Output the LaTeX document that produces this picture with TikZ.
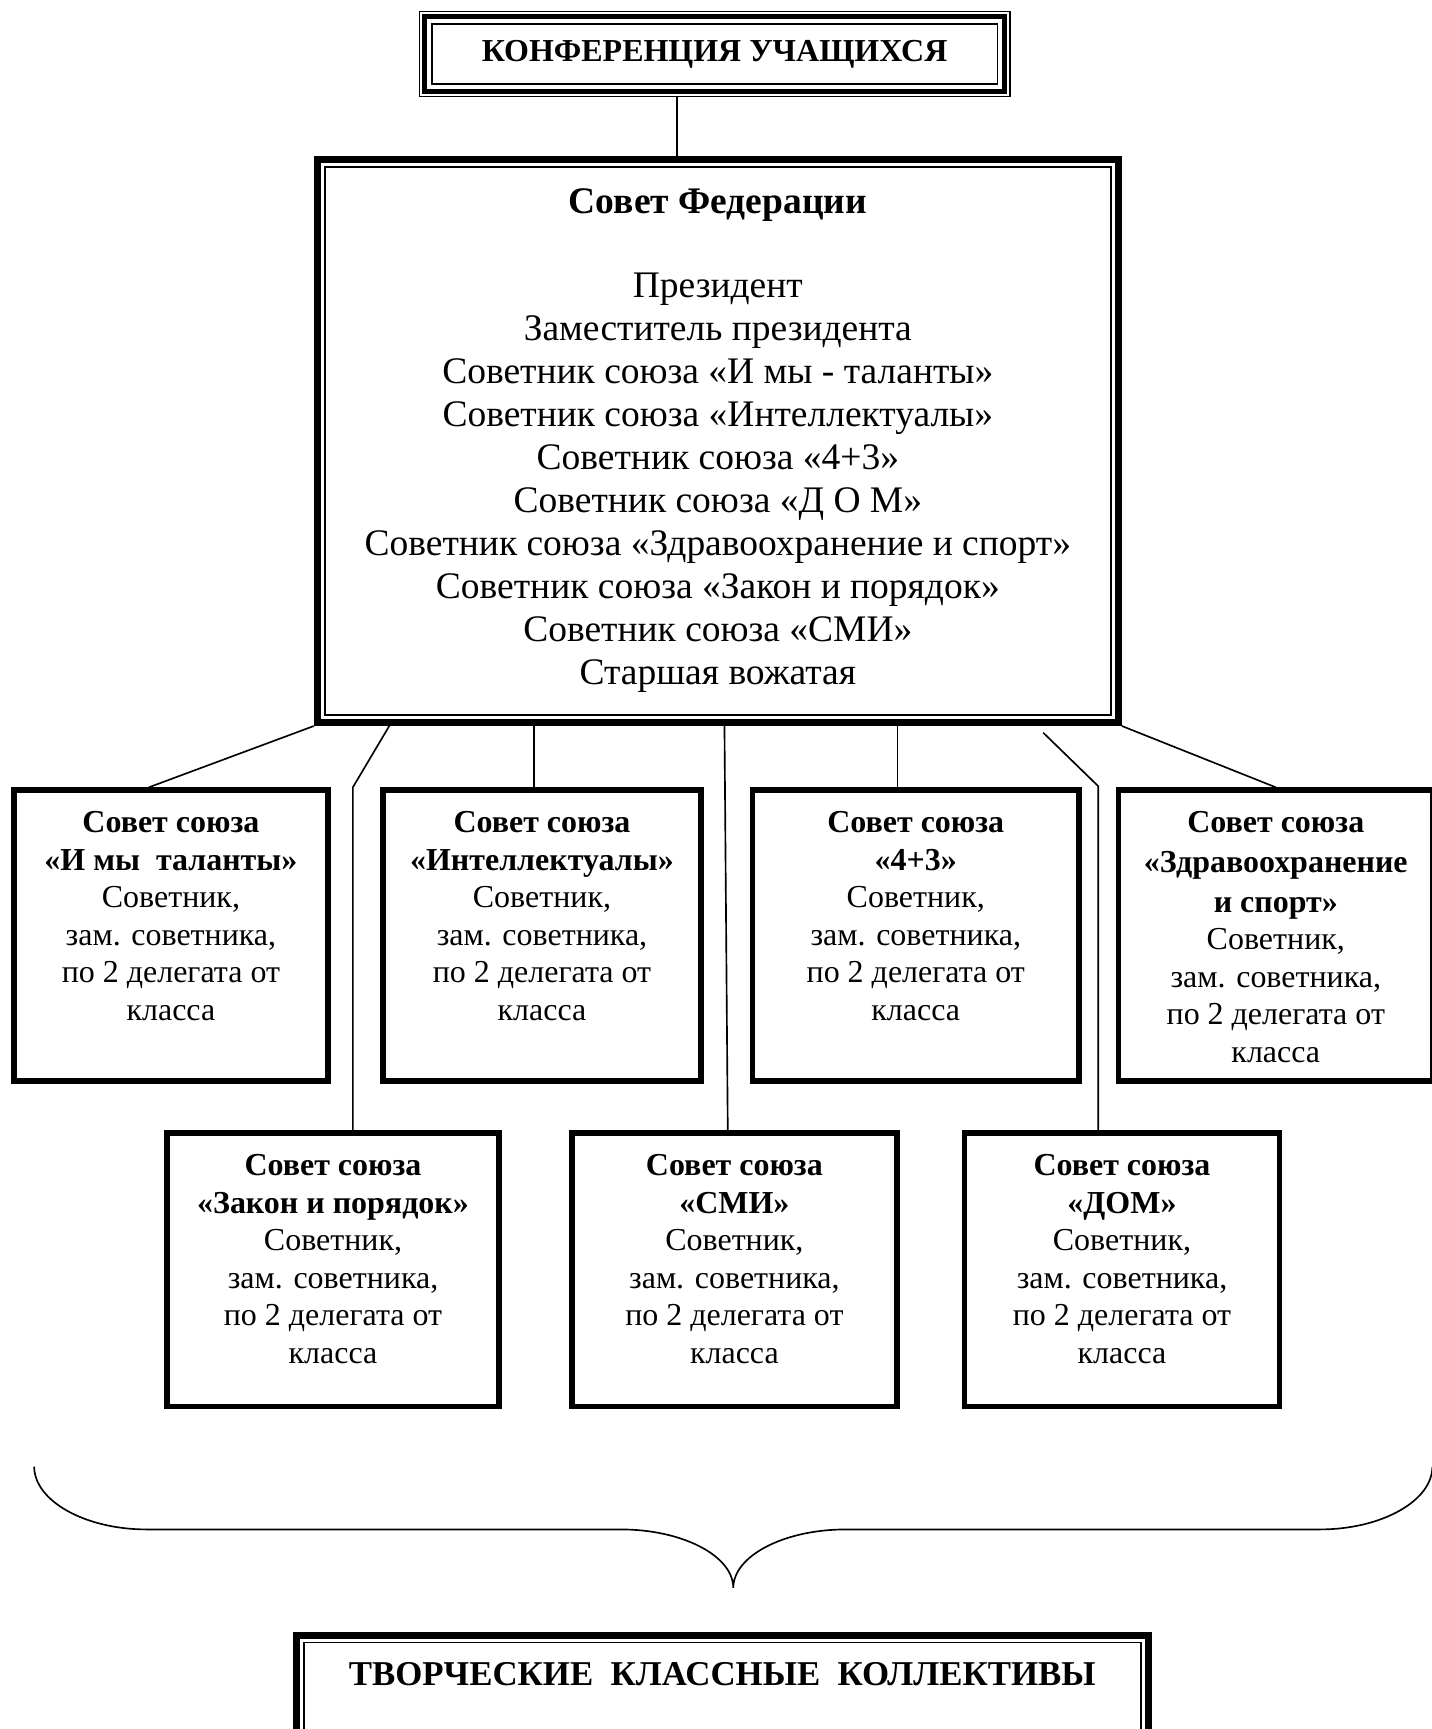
\documentclass[tikz,border=0pt]{standalone}
\usepackage{fontspec}
\setmainfont{Liberation Serif}
\usetikzlibrary{calc}
\begin{document}
\begin{tikzpicture}[x=0.5pt,y=-0.5pt]
\tikzset{
  ubox/.style={draw, line width=2.5pt, inner sep=0pt},
  utext/.style={align=center, inner sep=0pt, anchor=north, font=\fontsize{14.5pt}{17pt}\selectfont},
  conn/.style={line width=0.75pt},
  frame/.style={draw=none, inner sep=0pt},
  thickline/.style={line width=3.2pt},
  thinline/.style={line width=0.8pt},
}
\useasboundingbox (0,0) rectangle (1298,1568);

% top box
\node[frame, minimum width=268pt, minimum height=39pt] (conf) at (648,49) {};
\draw[line width=0.8pt] ([shift={(0.8,0.8)}]conf.north west) rectangle ([shift={(-0.8,-0.8)}]conf.south east);
\draw[line width=2.2pt] ([shift={(5.2,5.2)}]conf.north west) rectangle ([shift={(-5.2,-5.2)}]conf.south east);
\draw[line width=0.7pt] ([shift={(12,12)}]conf.north west) rectangle ([shift={(-12,-12)}]conf.south east);
\node[inner sep=0pt, font=\fontsize{14.5pt}{17pt}\selectfont\bfseries] (conft) at (648,49) {КОНФЕРЕНЦИЯ УЧАЩИХСЯ};

% federation council
\node[frame, minimum width=366pt, minimum height=258pt] (fed) at (651,400) {};
\draw[thickline] ([shift={(3.2,3.2)}]fed.north west) rectangle ([shift={(-3.2,-3.2)}]fed.south east);
\draw[thinline] ([shift={(10,10)}]fed.north west) rectangle ([shift={(-10,-10)}]fed.south east);
\node[align=center, inner sep=0pt, anchor=north, font=\fontsize{17pt}{19.5pt}\selectfont] (fedt) at (651,171)
 {\textbf{Совет Федерации}\\[18.5pt]
  Президент\\
  Заместитель президента\\
  Советник союза «И мы - таланты»\\
  Советник союза «Интеллектуалы»\\
  Советник союза «4+3»\\
  Советник союза «Д О М»\\
  Советник союза «Здравоохранение и спорт»\\
  Советник союза «Закон и порядок»\\
  Советник союза «СМИ»\\
  Старшая вожатая};

% row 1
\node[ubox, minimum width=142.5pt, minimum height=132pt] (A) at (155,848.5) {};
\node[ubox, minimum width=144pt, minimum height=132pt] (B) at (491.5,848.5) {};
\node[ubox, minimum width=148pt, minimum height=132pt] (C) at (830.5,848.5) {};
\node[ubox, minimum width=142.5pt, minimum height=132pt] (D) at (1157,848.5) {};
% row 2
\node[ubox, minimum width=150.5pt, minimum height=124pt] (E) at (302,1151.5) {};
\node[ubox, minimum width=147.5pt, minimum height=124pt] (F) at (666,1151.5) {};
\node[ubox, minimum width=143pt, minimum height=124pt] (G) at (1017.5,1151.5) {};

\node[utext] (At) at ([yshift=-10.8pt]A.north) {\textbf{Совет союза}\\\textbf{«И мы~ таланты»}\\Советник,\\зам. советника,\\по 2 делегата от\\класса};
\node[utext] (Bt) at ([yshift=-10.8pt]B.north) {\textbf{Совет союза}\\\textbf{«Интеллектуалы»}\\Советник,\\зам. советника,\\по 2 делегата от\\класса};
\node[utext] (Ct) at ([yshift=-10.8pt]C.north) {\textbf{Совет союза}\\\textbf{«4+3»}\\Советник,\\зам. советника,\\по 2 делегата от\\класса};
\node[utext] (Dt) at ([yshift=-10.8pt]D.north) {\textbf{Совет союза}\\[1pt]\textbf{«Здравоохранение}\\[1pt]\textbf{и спорт»}\\Советник,\\зам. советника,\\по 2 делегата от\\класса};
\node[utext] (Et) at ([yshift=-10.8pt]E.north) {\textbf{Совет союза}\\\textbf{«Закон и порядок»}\\Советник,\\зам. советника,\\по 2 делегата от\\класса};
\node[utext] (Ft) at ([yshift=-10.8pt]F.north) {\textbf{Совет союза}\\\textbf{«СМИ»}\\Советник,\\зам. советника,\\по 2 делегата от\\класса};
\node[utext] (Gt) at ([yshift=-10.8pt]G.north) {\textbf{Совет союза}\\\textbf{«ДОМ»}\\Советник,\\зам. советника,\\по 2 делегата от\\класса};

% bottom box
\node[frame, minimum width=389pt, minimum height=60pt] (tv) at (655,1540) {};
\draw[thickline] ([shift={(3.2,3.2)}]tv.north west) rectangle ([shift={(-3.2,-3.2)}]tv.south east);
\draw[thinline] ([shift={(10,10)}]tv.north west) rectangle ([shift={(-10,-10)}]tv.south east);
\node[inner sep=0pt, font=\fontsize{15.8pt}{19pt}\selectfont\bfseries] (tvt) at (655,1518) {ТВОРЧЕСКИЕ~ КЛАССНЫЕ~ КОЛЛЕКТИВЫ};

% connectors
\draw[conn] ([xshift=-17pt]conf.south) coordinate (t1) -- (t1 |- fed.north);
\draw[conn] (fed.south west) -- ([xshift=-10pt]A.north);
\coordinate (b1) at (320,714);
\draw[conn] ([xshift=-149pt]fed.south) -- (b1) -- (b1 |- E.north);
\draw[conn] ([xshift=-83.5pt]fed.south) coordinate (t3) -- (t3 |- B.north);
\draw[conn] ([xshift=3pt]fed.south) -- ([xshift=-3pt]F.north);
\draw[conn] ([xshift=81.5pt]fed.south) coordinate (t6) -- (t6 |- C.north);
\coordinate (b2) at (996,713);
\draw[conn] ([xshift=147.5pt,yshift=-3pt]fed.south) -- (b2) -- (b2 |- G.north);
\draw[conn] (fed.south east) -- (D.north);

% brace
\draw[conn] (31,1330) .. controls (31,1361) and (77,1387) .. (133,1387) -- (563,1387)
  .. controls (619,1387) and (665,1411) .. (665,1440)
  .. controls (665,1411) and (711,1387) .. (767,1387) -- (1197,1387)
  .. controls (1253,1387) and (1299,1361) .. (1299,1330);
\end{tikzpicture}
\end{document}
